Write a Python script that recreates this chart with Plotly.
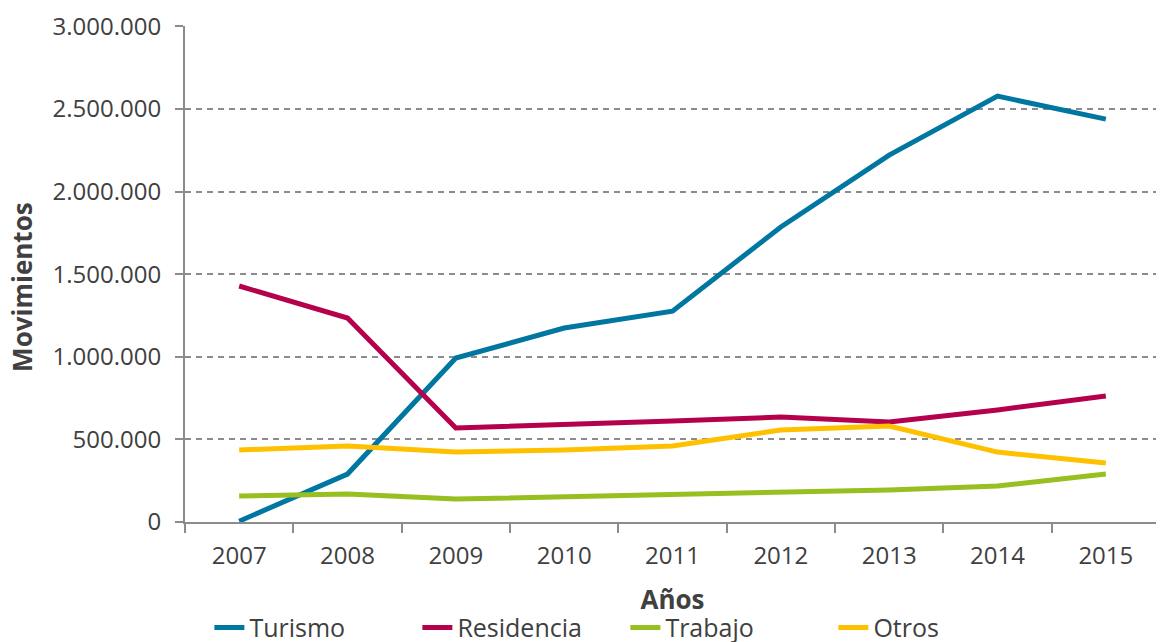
import plotly.graph_objects as go

years = ["2007", "2008", "2009", "2010", "2011", "2012", "2013", "2014", "2015"]
turismo = [5000, 290000, 992000, 1174000, 1276000, 1785000, 2220000, 2577000, 2438000]
residencia = [1428000, 1234000, 569000, 587000, 611000, 635000, 605000, 678000, 762000]
trabajo = [157000, 170000, 139000, 151000, 163000, 175000, 194000, 218000, 290000]
otros = [436000, 460000, 423000, 436000, 460000, 557000, 581000, 423000, 357000]

series = [
    ("Turismo", turismo, "#0077A0"),
    ("Residencia", residencia, "#B5004C"),
    ("Trabajo", trabajo, "#97BF1F"),
    ("Otros", otros, "#FFC000"),
]

fig = go.Figure()
for name, vals, color in series:
    fig.add_trace(go.Scatter(
        x=years, y=vals, name=name, mode="lines",
        line=dict(color=color, width=5),
    ))

font_color = "#404040"
fig.update_layout(
    width=1156, height=634,
    margin=dict(l=177, r=4, t=18, b=120, autoexpand=False),
    paper_bgcolor="white", plot_bgcolor="white",
    separators=",.",
    font=dict(family="Open Sans", size=24, color=font_color),
    showlegend=True,
    legend=dict(orientation="h", x=0.025, xanchor="left", y=-0.213, yanchor="middle",
                font=dict(size=25, color=font_color), itemwidth=30,
                entrywidth=163, entrywidthmode="pixels",
                tracegroupgap=0, bgcolor="rgba(0,0,0,0)"),
    xaxis=dict(
        type="category", range=[-0.5, 8.5], showgrid=False, automargin=False,
        showline=True, linecolor="#8c8c8c", linewidth=2,
        ticks="outside", tickson="boundaries", ticklen=9, tickcolor="#8c8c8c", tickwidth=2,
        ticklabelstandoff=11,
        tickfont=dict(size=24, color=font_color),
        title=dict(text="<b>Años</b>", font=dict(size=26, color=font_color), standoff=21),
    ),
    yaxis=dict(
        range=[0, 3001500], tickvals=[0, 500000, 1000000, 1500000, 2000000, 2500000, 3000000],
        tickformat=",.0f", automargin=False,
        showgrid=True, gridcolor="#8c8c8c", gridwidth=1.5, griddash="6px,5px",
        showline=True, linecolor="#8c8c8c", linewidth=2,
        ticks="outside", ticklen=8, tickcolor="#8c8c8c", tickwidth=2,
        zeroline=False, ticklabelstandoff=9,
        tickfont=dict(size=24, color=font_color),
    ),
    annotations=[dict(
        text="<b>Movimientos</b>", textangle=-90, showarrow=False,
        xref="paper", yref="paper", x=-0.1672, y=0.474,
        xanchor="center", yanchor="middle",
        font=dict(size=26, color=font_color),
    )],
)

fig.write_html("out.html")
